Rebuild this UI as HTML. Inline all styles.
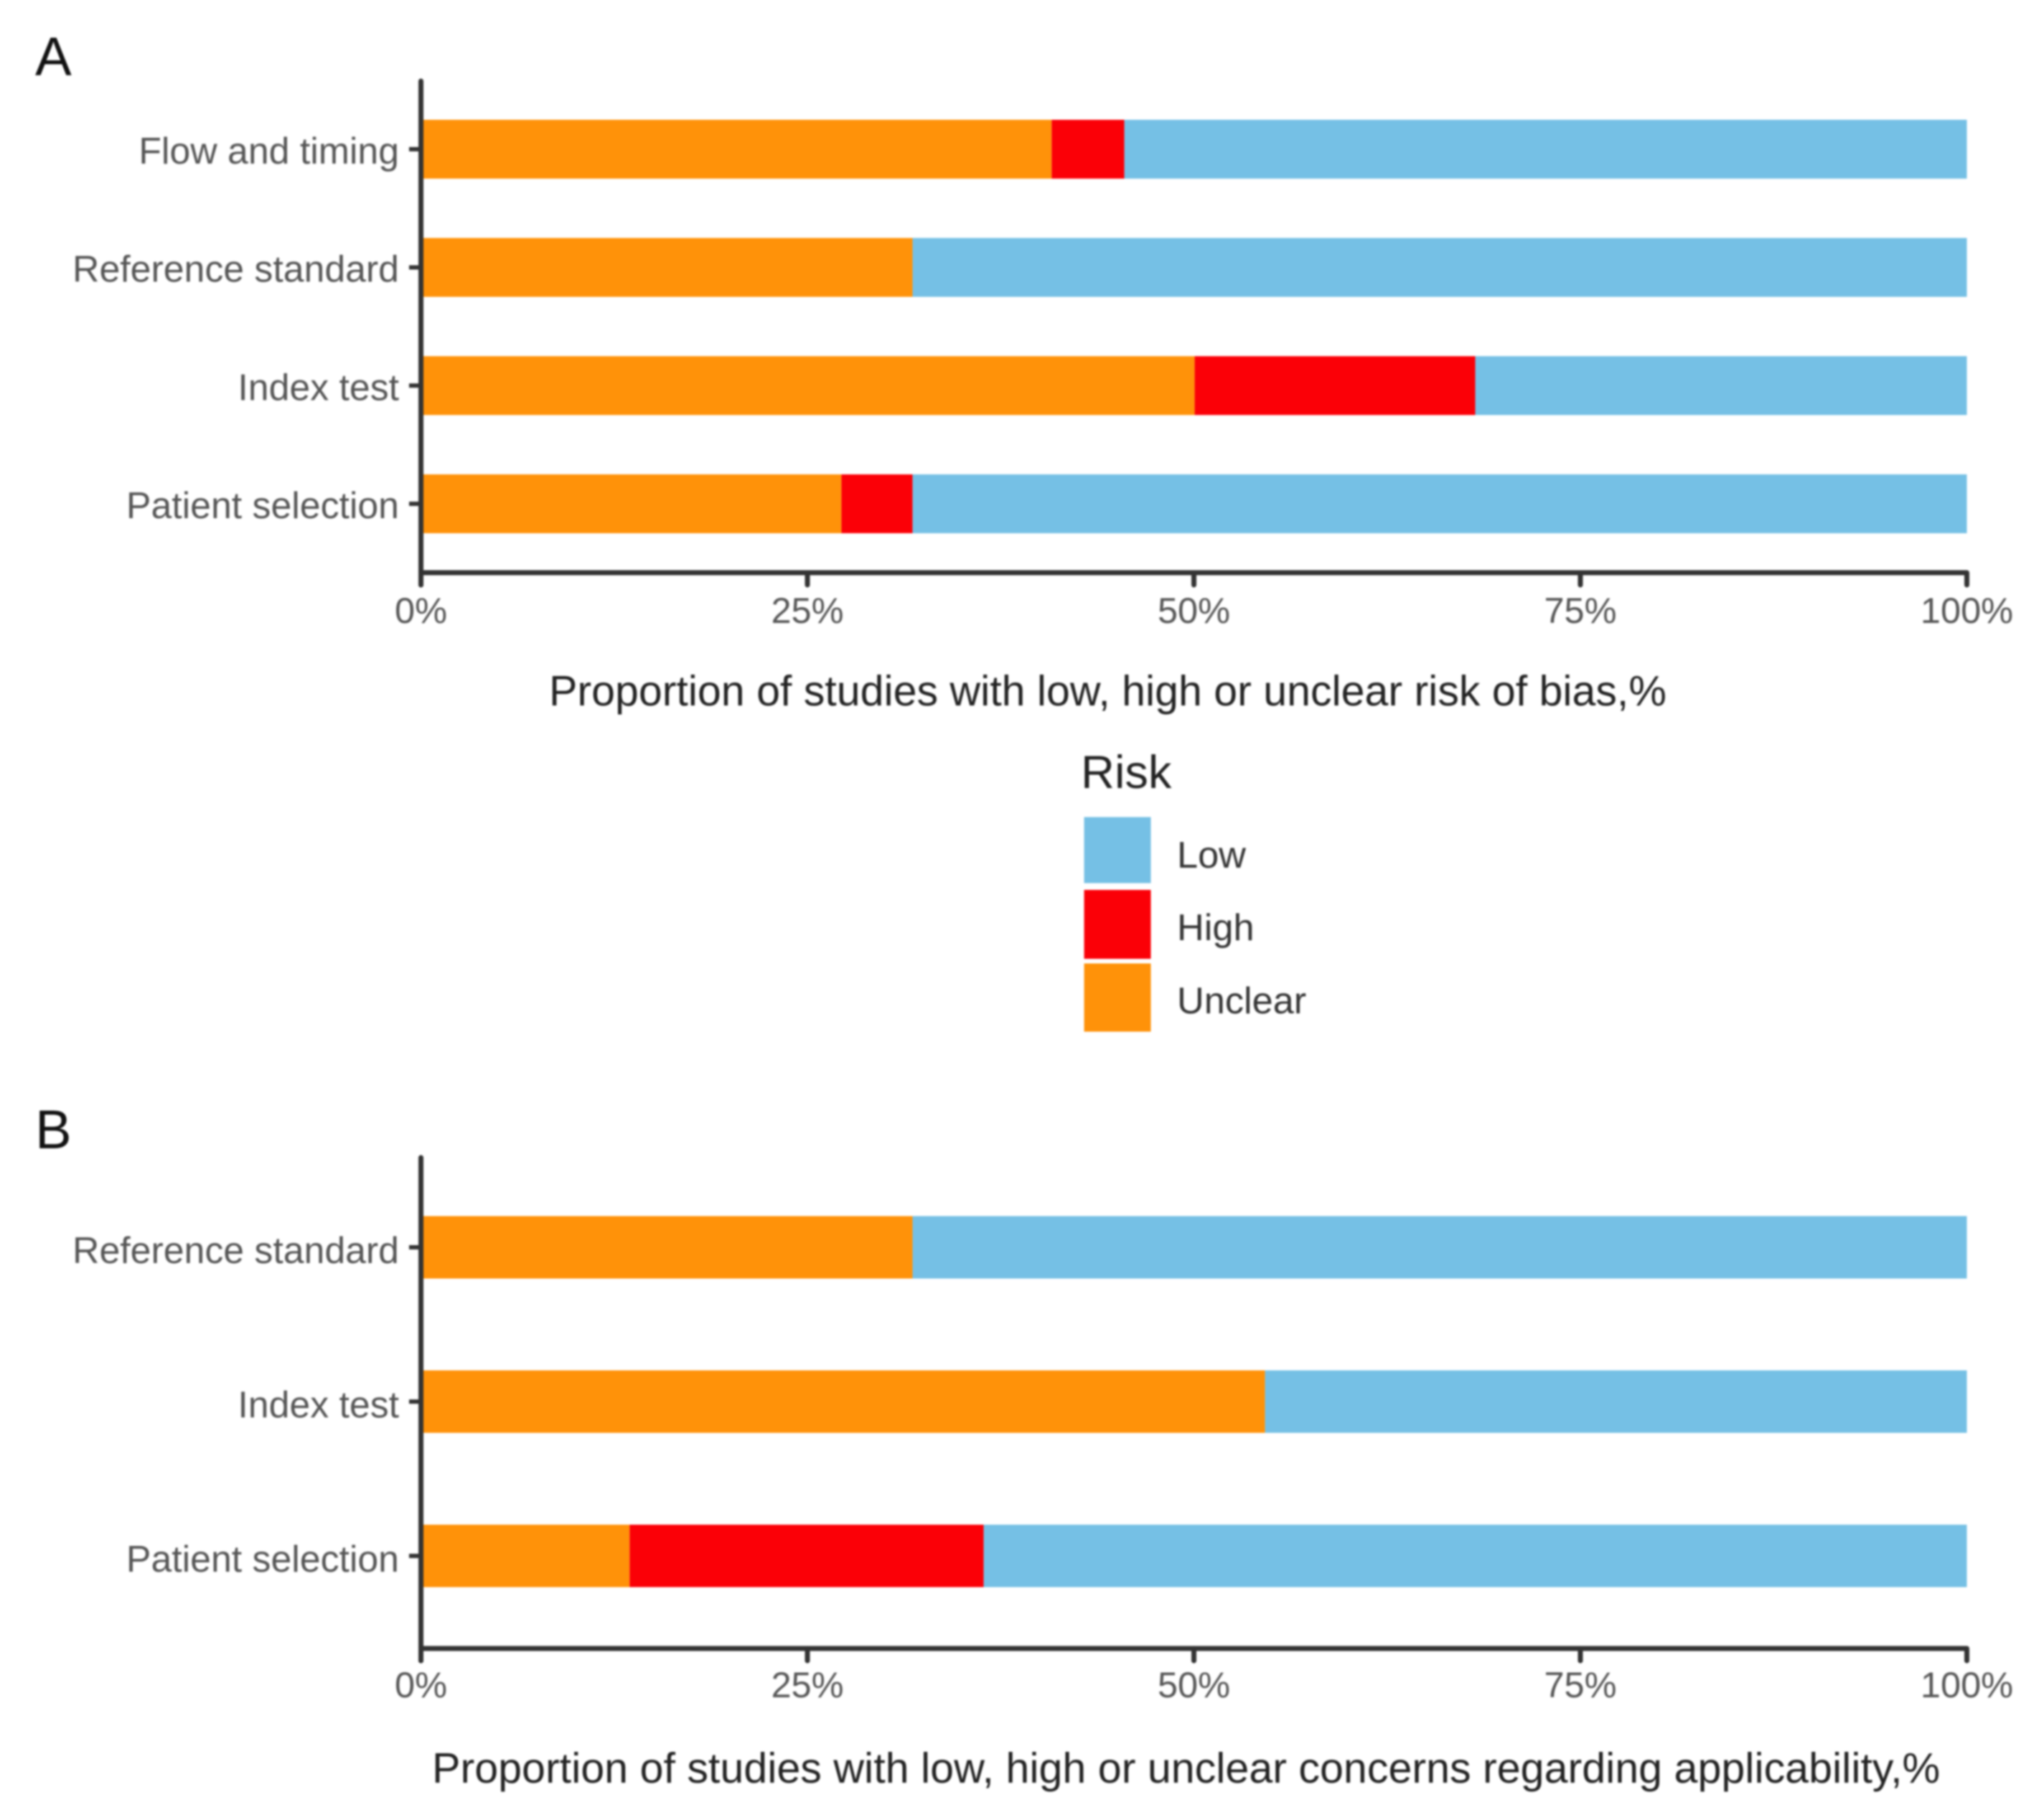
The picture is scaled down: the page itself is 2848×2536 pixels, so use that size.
<!DOCTYPE html>
<html lang="en">
<head>
<meta charset="utf-8">
<title>Risk of bias and applicability concerns</title>
<style>
  html, body { margin: 0; padding: 0; background: #fff; }
  body { width: 2848px; height: 2536px; overflow: hidden; }
  svg { display: block; filter: blur(1.4px); font-family: "Liberation Sans", sans-serif; }
</style>
</head>
<body>
<svg id="figure" xmlns="http://www.w3.org/2000/svg" width="2848" height="2536" viewBox="0 0 2848 2536">
  <rect width="2848" height="2536" fill="#fff"/>

  <text x="49" y="105" font-size="76" fill="#111">A</text>
  <text x="49" y="1600" font-size="76" fill="#111">B</text>

  <g id="panelA"></g>
  <g id="panelB"></g>

  <text x="765" y="983" font-size="59.1" fill="#222">Proportion of studies with low, high or unclear risk of bias,%</text>
  <text x="602" y="2484" font-size="59.2" fill="#222">Proportion of studies with low, high or unclear concerns regarding applicability,%</text>

  <g>
    <text x="1506" y="1098" font-size="65" fill="#222">Risk</text>
    <g>
      <rect x="1510.5" y="1138.5" width="93" height="92" fill="#75C0E5"/>
      <text x="1640" y="1209" font-size="52.3" fill="#333">Low</text>
    </g>
    <g>
      <rect x="1510.5" y="1240" width="93" height="96" fill="#FB0007"/>
      <text x="1640" y="1310" font-size="52.3" fill="#333">High</text>
    </g>
    <g>
      <rect x="1510.5" y="1342.5" width="93" height="95" fill="#FF9209"/>
      <text x="1640" y="1412" font-size="52.3" fill="#333">Unclear</text>
    </g>
  </g>
</svg>

<script>
// Tick labels for the shared percentage axis
var xTickValues = [0, 25, 50, 75, 100];
var xTickLabels = ["0%", "25%", "50%", "75%", "100%"];

// Panel A: categories listed bottom to top, values in percent of studies
var categoriesA = ["Patient selection", "Index test", "Reference standard", "Flow and timing"];
var unclearA = [27.2, 50.05, 31.8, 40.8];
var highA = [4.6, 18.15, 0, 4.7];
var lowA = [68.2, 31.8, 68.2, 54.5];

// Panel B: categories listed bottom to top, values in percent of studies
var categoriesB = ["Patient selection", "Index test", "Reference standard"];
var unclearB = [13.5, 54.6, 31.8];
var highB = [22.9, 0, 0];
var lowB = [63.6, 45.4, 68.2];

var SVG_NS = "http://www.w3.org/2000/svg";
var X_LEFT = 586.5;
var X_RIGHT = 2740.5;

function xScale(v) {
  return X_LEFT + (X_RIGHT - X_LEFT) * v / 100;
}

function make(tag, attrs, parent) {
  var el = document.createElementNS(SVG_NS, tag);
  for (var k in attrs) { el.setAttribute(k, attrs[k]); }
  parent.appendChild(el);
  return el;
}

function slug(s) {
  return s.toLowerCase().replace(/\s+/g, "-");
}

function drawPanel(root, prefix, cats, unclear, high, low, cfg) {
  function yScale(i) {
    return cfg.yBottomCentre - i * cfg.step;
  }

  var barsGroup = make("g", {}, root);
  
  

  cats.forEach(function (cat, i) {
    var parts = [
      { key: "unclear", value: unclear[i], fill: "#FF9209" },
      { key: "high", value: high[i], fill: "#FB0007" },
      { key: "low", value: low[i], fill: "#75C0E5" }
    ];
    var cum = 0;
    parts.forEach(function (p) {
      var x0 = xScale(cum);
      var x1 = xScale(cum + p.value);
      cum += p.value;
      if (p.value <= 0) { return; }
      var bar = make("rect", {
        x: x0,
        y: yScale(i) - cfg.barHeight / 2,
        width: x1 - x0,
        height: cfg.barHeight,
        fill: p.fill
      }, barsGroup);
      
      
    });
  });

  var yAxis = make("g", {}, root);
  
  

  var yLine = make("line", {
    x1: X_LEFT, y1: cfg.axisTop, x2: X_LEFT, y2: cfg.axisBottom + 17,
    stroke: "#333", "stroke-width": 7, "stroke-linecap": "round"
  }, yAxis);
  
  

  cats.forEach(function (cat, i) {
    var tick = make("line", {
      x1: 570, y1: yScale(i), x2: X_LEFT, y2: yScale(i),
      stroke: "#333", "stroke-width": 6
    }, yAxis);
    
    

    var label = make("text", {
      x: 556, y: yScale(i) + cfg.labelOffset, "text-anchor": "end",
      "font-size": 51.8, fill: "#555"
    }, yAxis);
    
    
    label.textContent = cat;
  });

  var xAxis = make("g", {}, root);
  
  

  var xLine = make("line", {
    x1: X_LEFT, y1: cfg.axisBottom, x2: X_RIGHT, y2: cfg.axisBottom,
    stroke: "#333", "stroke-width": 7
  }, xAxis);
  
  

  xTickValues.forEach(function (v, i) {
    var tick = make("line", {
      x1: xScale(v), y1: cfg.axisBottom, x2: xScale(v), y2: cfg.axisBottom + 17,
      stroke: "#333", "stroke-width": 7, "stroke-linecap": "round"
    }, xAxis);
    
    

    var label = make("text", {
      x: xScale(v), y: cfg.axisBottom + cfg.xLabelOffset, "text-anchor": "middle",
      "font-size": 50.5, fill: "#555"
    }, xAxis);
    
    
    label.textContent = xTickLabels[i];
  });
}

drawPanel(document.getElementById("panelA"), "panel-a", categoriesA, unclearA, highA, lowA, {
  yBottomCentre: 702, step: 164.7, barHeight: 82, axisTop: 113, axisBottom: 798, labelOffset: 20, xLabelOffset: 70
});

drawPanel(document.getElementById("panelB"), "panel-b", categoriesB, unclearB, highB, lowB, {
  yBottomCentre: 2168, step: 215, barHeight: 87, axisTop: 1613, axisBottom: 2297, labelOffset: 22, xLabelOffset: 68
});
</script>
</body>
</html>
